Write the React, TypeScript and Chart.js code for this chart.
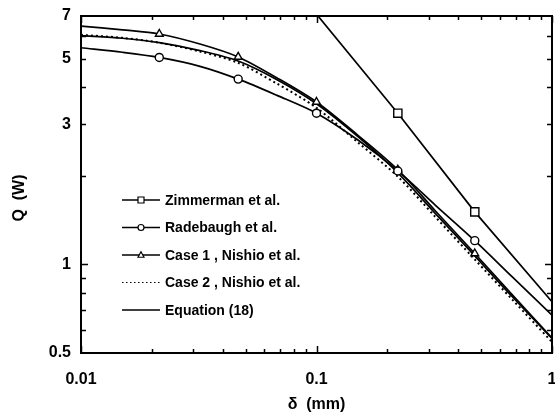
import React, { useEffect, useRef } from "react";
import { Chart, registerables } from "chart.js";

Chart.register(...registerables);

// ---- data ----
const deltaCurve = [0.01, 0.015, 0.0215, 0.032, 0.0465, 0.068, 0.1, 0.15, 0.2215, 0.32, 0.47, 0.68, 1.0];
const radebaugh = [5.46, 5.27, 5.06, 4.72, 4.27, 3.76, 3.27, 2.65, 2.08, 1.59, 1.205, 0.905, 0.673];
const case1 = [6.47, 6.28, 6.08, 5.62, 5.08, 4.31, 3.57, 2.75, 2.1, 1.52, 1.09, 0.787, 0.562];
const case2 = [6.04, 5.9, 5.68, 5.3, 4.85, 4.12, 3.41, 2.6, 1.99, 1.45, 1.04, 0.758, 0.545];
const equation18 = [6.0, 5.88, 5.68, 5.34, 4.92, 4.25, 3.52, 2.72, 2.05, 1.49, 1.07, 0.775, 0.56];
const markerDeltas = [0.0215, 0.0465, 0.1, 0.2215, 0.47];

const deltaZimmerman = [0.1, 0.2215, 0.47, 1.0];
const zimmerman = [7.1, 3.27, 1.51, 0.747];
const zimmermanMarkers = [0.2215, 0.47];

const xLabelTicks = [0.01, 0.1, 1];
const yLabelTicks = [0.5, 1, 3, 5, 7];
const xMinorTicks = [0.02, 0.03, 0.04, 0.05, 0.06, 0.07, 0.08, 0.09, 0.2, 0.3, 0.4, 0.5, 0.6, 0.7, 0.8, 0.9];
const yMinorTicks = [0.6, 0.7, 0.8, 0.9, 2, 3, 4, 5, 6];
const yMajorTicks = [1];

const legendLabels = ["Zimmerman et al.", "Radebaugh et al.", "Case 1 , Nishio et al.", "Case 2 , Nishio et al.", "Equation (18)"];
const xTitle = "δ  (mm)";
const yTitle = "Q  (W)";

const pts = (xs: number[], ys: number[]) => xs.map((x, i) => ({ x, y: ys[i] }));

const FONT = '"Liberation Sans", Arial, sans-serif';

function drawMarker(ctx: CanvasRenderingContext2D, style: string, cx: number, cy: number, r: number) {
  ctx.beginPath();
  if (style === "rect") {
    ctx.rect(cx - r, cy - r, 2 * r, 2 * r);
  } else if (style === "circle") {
    ctx.arc(cx, cy, r, 0, Math.PI * 2);
  } else if (style === "triangle") {
    ctx.moveTo(cx, cy - r * 1.1);
    ctx.lineTo(cx + r, cy + r * 0.75);
    ctx.lineTo(cx - r, cy + r * 0.75);
    ctx.closePath();
  }
  ctx.fillStyle = "#fff";
  ctx.fill();
  ctx.stroke();
}

const framePlugin = {
  id: "frame",
  afterDraw(chart: any) {
    const { ctx, chartArea: a, scales } = chart;
    const xs = scales.x;
    const ys = scales.y;
    ctx.save();
    ctx.strokeStyle = "#000";
    ctx.lineWidth = 2;
    ctx.strokeRect(a.left, a.top, a.right - a.left, a.bottom - a.top);
    ctx.lineWidth = 1.5;
    const xt = [...xLabelTicks.map((v) => [v, 7]), ...xMinorTicks.map((v) => [v, 4])];
    xt.forEach(([v, len]) => {
      const px = Math.round(xs.getPixelForValue(v)) + 0.5;
      ctx.beginPath();
      ctx.moveTo(px, a.bottom);
      ctx.lineTo(px, a.bottom - len);
      ctx.moveTo(px, a.top);
      ctx.lineTo(px, a.top + len);
      ctx.stroke();
    });
    const yt = [...yMajorTicks.map((v) => [v, 7]), ...yMinorTicks.map((v) => [v, 5])];
    yt.forEach(([v, len]) => {
      const py = Math.round(ys.getPixelForValue(v)) + 0.5;
      ctx.beginPath();
      ctx.moveTo(a.left, py);
      ctx.lineTo(a.left + len, py);
      ctx.moveTo(a.right, py);
      ctx.lineTo(a.right - len, py);
      ctx.stroke();
    });

    // legend
    const lx0 = 122;
    const lx1 = 160;
    const ly0 = 200;
    const step = 27.5;
    ctx.font = `bold 14px ${FONT}`;
    ctx.textBaseline = "middle";
    ctx.textAlign = "left";
    chart.data.datasets.forEach((ds: any, i: number) => {
      const yy = ly0 + i * step;
      ctx.strokeStyle = "#000";
      ctx.lineWidth = ds.borderDash && ds.borderDash.length ? 1 : 1.5;
      ctx.setLineDash(ds.borderDash && ds.borderDash.length ? [1.5, 2.5] : []);
      ctx.beginPath();
      ctx.moveTo(lx0, yy);
      ctx.lineTo(lx1, yy);
      ctx.stroke();
      ctx.setLineDash([]);
      if (ds.legendMarker) {
        ctx.lineWidth = 1.2;
        drawMarker(ctx, ds.legendMarker, (lx0 + lx1) / 2, yy, 3);
      }
      ctx.fillStyle = "#000";
      ctx.fillText(ds.label, 165, yy + 1);
    });

    // axis titles
    ctx.font = `bold 16px ${FONT}`;
    ctx.fillStyle = "#000";
    ctx.textAlign = "center";
    ctx.textBaseline = "middle";
    ctx.fillText(xTitle, (a.left + a.right) / 2, 405);
    ctx.save();
    ctx.translate(20, 198);
    ctx.rotate(-Math.PI / 2);
    ctx.fillText(yTitle, 0, 0);
    ctx.restore();
    ctx.restore();
  },
};

export default function App() {
  const ref = useRef<HTMLCanvasElement | null>(null);
  useEffect(() => {
    if (!ref.current) return;
    const radiusFor = (list: number[], r: number) => (c: any) => {
      const raw = c.raw;
      return raw && list.includes(raw.x) ? r : 0;
    };
    const base = {
      showLine: true,
      borderColor: "#000",
      backgroundColor: "#fff",
      pointBorderColor: "#000",
      pointBackgroundColor: "#fff",
      pointBorderWidth: 1.4,
      borderWidth: 1.7,
      tension: 0.3,
      pointHoverRadius: 0,
    };
    const chart = new Chart(ref.current, {
      type: "scatter",
      data: {
        datasets: [
          {
            ...base,
            label: legendLabels[0],
            data: pts(deltaZimmerman, zimmerman),
            tension: 0,
            pointStyle: "rect",
            pointRadius: radiusFor(zimmermanMarkers, 5.8),
            legendMarker: "rect",
          } as any,
          {
            ...base,
            label: legendLabels[1],
            data: pts(deltaCurve, radebaugh),
            pointStyle: "circle",
            pointRadius: radiusFor(markerDeltas, 4),
            legendMarker: "circle",
          },
          {
            ...base,
            label: legendLabels[2],
            data: pts(deltaCurve, case1),
            pointStyle: "triangle",
            pointRadius: radiusFor(markerDeltas, 4.5),
            legendMarker: "triangle",
          },
          {
            ...base,
            label: legendLabels[3],
            data: pts(deltaCurve, case2),
            borderDash: [2, 3],
            borderWidth: 2,
            pointRadius: 0,
            legendMarker: null,
          },
          {
            ...base,
            label: legendLabels[4],
            data: pts(deltaCurve, equation18),
            pointRadius: 0,
            legendMarker: null,
          },
        ],
      },
      options: {
        responsive: false,
        animation: false,
        events: [],
        layout: { padding: { top: 16, right: 3, left: 0, bottom: 0 } },
        plugins: { legend: { display: false }, tooltip: { enabled: false }, title: { display: false } },
        scales: {
          x: {
            type: "logarithmic",
            min: 0.01,
            max: 1,
            grid: { display: false, drawTicks: false },
            border: { display: false },
            afterBuildTicks: (s: any) => {
              s.ticks = xLabelTicks.map((v) => ({ value: v }));
            },
            afterFit: (s: any) => {
              s.height = 65;
              s.paddingLeft = 0;
              s.paddingRight = 0;
            },
            ticks: {
              autoSkip: false,
              maxRotation: 0,
              padding: 17,
              color: "#000",
              font: { family: FONT, size: 16, weight: "bold" },
              callback: (v: any) => String(v),
            },
          },
          y: {
            type: "logarithmic",
            min: 0.5,
            max: 7,
            grid: { display: false, drawTicks: false },
            border: { display: false },
            afterBuildTicks: (s: any) => {
              s.ticks = yLabelTicks.map((v) => ({ value: v }));
            },
            afterFit: (s: any) => {
              s.width = 81;
              s.paddingTop = 0;
              s.paddingBottom = 0;
            },
            ticks: {
              autoSkip: false,
              padding: 10,
              color: "#000",
              font: { family: FONT, size: 16, weight: "bold" },
              callback: (v: any) => String(v),
            },
          },
        },
      } as any,
      plugins: [framePlugin],
    });
    return () => chart.destroy();
  }, []);
  return (
    <div style={{ position: "absolute", left: 0, top: 0, width: 555, height: 418, background: "#fff" }}>
      <canvas ref={ref} width={555} height={418} />
    </div>
  );
}
